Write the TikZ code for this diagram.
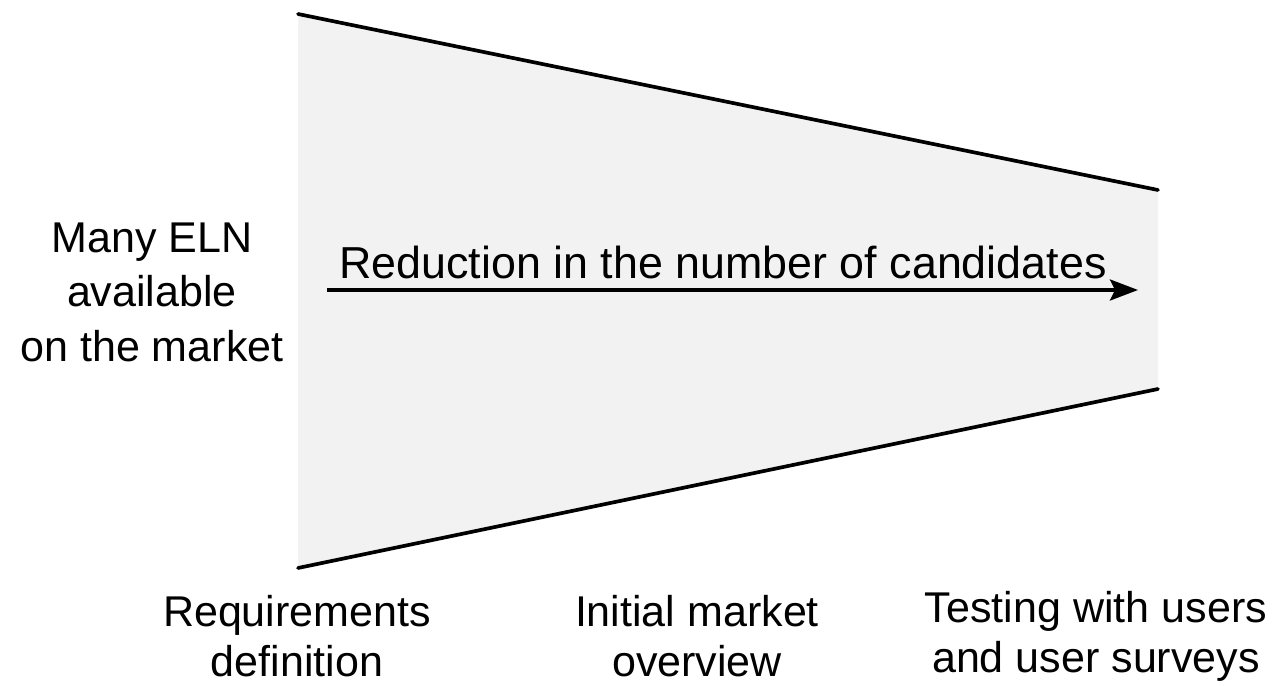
\documentclass[tikz,border=0pt]{standalone}
\usepackage{fontspec}
\setmainfont{Liberation Sans}
\usepackage{tikz}
\usetikzlibrary{arrows.meta}

\begin{document}
\begin{tikzpicture}[x=0.02cm, y=-0.02cm,
  funnelline/.style={line width=2.1pt, line cap=round},
  sidetext/.style={align=center, inner sep=0pt, font=\fontsize{24.5}{31}\selectfont},
  stagetext/.style={align=center, inner sep=0pt, font=\fontsize{24.5}{28.5}\selectfont}]

\useasboundingbox (0,0) rectangle (1286,686);

% Corners of the funnel
\coordinate (TL) at (298,14);
\coordinate (TR) at (1158,190);
\coordinate (BR) at (1158,389);
\coordinate (BL) at (298,568);

% Funnel body and its two slanted edges
\fill[black!5] (TL) -- (TR) -- (BR) -- (BL) -- cycle;
\draw[funnelline] (TL) -- (TR);
\draw[funnelline] (BL) -- (BR);

% Arrow through the funnel
\coordinate (arrowstart) at (327,290);
\coordinate (arrowend) at (1138,290);
\draw[line width=1.9pt, -{Stealth[length=16pt, width=12pt, inset=3pt]}] (arrowstart) -- (arrowend);
\node[inner sep=0pt, anchor=base, font=\fontsize{25.5}{29}\selectfont] (reduction) at (723,278) {Reduction in the number of candidates};

% Text on the left
\node[sidetext] (many) at (152,292) {Many ELN\\available\\on the market};

% Stages below the funnel
\node[stagetext] (req) at (297,636) {Requirements\\definition};
\node[stagetext] (market) at (697,636) {Initial market\\overview};
\node[stagetext] (testing) at (1096,636) {Testing with users\\and user surveys};
\end{tikzpicture}
\end{document}
